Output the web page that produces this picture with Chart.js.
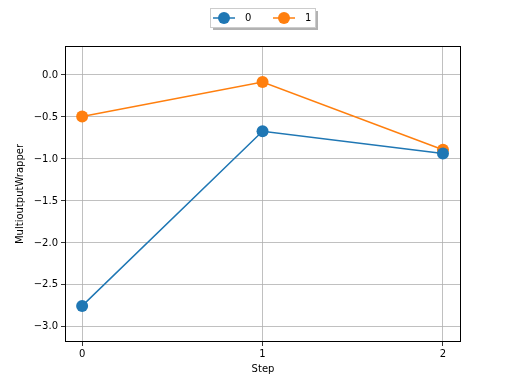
<!DOCTYPE html>
<html>
<head>
<meta charset="utf-8">
<script src="https://cdn.jsdelivr.net/npm/chart.js@4/dist/chart.umd.min.js"></script>
<style>
html,body{margin:0;padding:0;background:#fff;}
#wrap{width:512px;height:384px;position:relative;}
</style>
</head>
<body>
<div id="wrap"><canvas id="c" width="512" height="384"></canvas></div>
<script>
const steps = [0, 1, 2];
const seriesNames = ['0', '1'];
const series0 = [-2.75, -0.67, -0.935];
const series1 = [-0.495, -0.085, -0.89];
const yTicks = [0.0, -0.5, -1.0, -1.5, -2.0, -2.5, -3.0];
const xTicks = [0, 1, 2];
const colors = ['#1f77b4', '#ff7f0e'];

const FONT = 'DejaVu Sans';

const framePlugin = {
  id: 'frame',
  afterDraw(chart) {
    const {ctx, chartArea: a} = chart;
    ctx.save();
    ctx.strokeStyle = '#000';
    ctx.lineWidth = 1;
    ctx.strokeRect(Math.round(a.left) + 0.5, Math.round(a.top) + 0.5, Math.round(a.right - a.left) - 1, Math.round(a.bottom - a.top) - 1);
    ctx.restore();
    // legend
    const bx = 210, by = 8, bw = 105, bh = 19;
    ctx.save();
    ctx.fillStyle = 'rgba(0,0,0,0.3)';
    ctx.fillRect(bx + 3, by + 3, bw, bh);
    ctx.fillStyle = '#fff';
    ctx.fillRect(bx, by, bw, bh);
    ctx.strokeStyle = '#cccccc';
    ctx.lineWidth = 1;
    ctx.strokeRect(bx + 0.5, by + 0.5, bw, bh);
    ctx.font = '10px ' + FONT;
    ctx.textBaseline = 'middle';
    ctx.textAlign = 'left';
    const cy = by + bh / 2 + 0.5;
    const items = [{x: 213, tx: 245}, {x: 273, tx: 305}];
    chart.data.datasets.forEach((ds, i) => {
      const it = items[i];
      ctx.strokeStyle = ds.borderColor;
      ctx.lineWidth = 1.5;
      ctx.beginPath();
      ctx.moveTo(it.x, cy);
      ctx.lineTo(it.x + 22, cy);
      ctx.stroke();
      ctx.fillStyle = ds.borderColor;
      ctx.beginPath();
      ctx.arc(it.x + 11, cy, 6, 0, Math.PI * 2);
      ctx.fill();
      ctx.fillStyle = '#000';
      ctx.fillText(ds.label, it.tx, cy);
    });
    ctx.restore();
  }
};

const fmt = v => {
  const s = Math.abs(v).toFixed(1);
  return (v < 0 ? '\u2212' : '') + s;
};

new Chart(document.getElementById('c'), {
  type: 'line',
  data: {
    datasets: [
      {label: seriesNames[0], data: steps.map((s, i) => ({x: s, y: series0[i]})), borderColor: colors[0], backgroundColor: colors[0], borderWidth: 1.5, pointRadius: 6, pointHoverRadius: 6, pointBorderWidth: 0, tension: 0},
      {label: seriesNames[1], data: steps.map((s, i) => ({x: s, y: series1[i]})), borderColor: colors[1], backgroundColor: colors[1], borderWidth: 1.5, pointRadius: 6, pointHoverRadius: 6, pointBorderWidth: 0, tension: 0}
    ]
  },
  options: {
    responsive: false,
    animation: false,
    devicePixelRatio: 1,
    layout: {padding: {top: 46, right: 51, bottom: 0, left: 0}},
    plugins: {legend: {display: false}, tooltip: {enabled: false}},
    scales: {
      x: {
        type: 'linear',
        min: -0.095,
        max: 2.1,
        afterFit: s => { s.height = 42; },
        afterBuildTicks: s => { s.ticks = xTicks.map(v => ({value: v})); },
        ticks: {color: '#000', font: {family: FONT, size: 10}, padding: 2, callback: v => String(v), maxRotation: 0},
        grid: {color: '#b0b0b0', lineWidth: 0.8, tickColor: '#000', tickLength: 4, drawTicks: true},
        border: {display: false},
        title: {display: true, text: 'Step', color: '#000', font: {family: FONT, size: 10}, padding: {top: 9, bottom: 9}}
      },
      y: {
        type: 'linear',
        min: -3.18,
        max: 0.345,
        afterFit: s => { s.width = 65; },
        afterBuildTicks: s => { s.ticks = yTicks.map(v => ({value: v})); },
        ticks: {color: '#000', font: {family: FONT, size: 10}, padding: 3, callback: v => fmt(v)},
        grid: {color: '#b0b0b0', lineWidth: 0.8, tickColor: '#000', tickLength: 4, drawTicks: true},
        border: {display: false},
        title: {display: true, text: 'MultioutputWrapper', color: '#000', font: {family: FONT, size: 10}, padding: {top: 14, bottom: 14}}
      }
    }
  },
  plugins: [framePlugin]
});
</script>
</body>
</html>
